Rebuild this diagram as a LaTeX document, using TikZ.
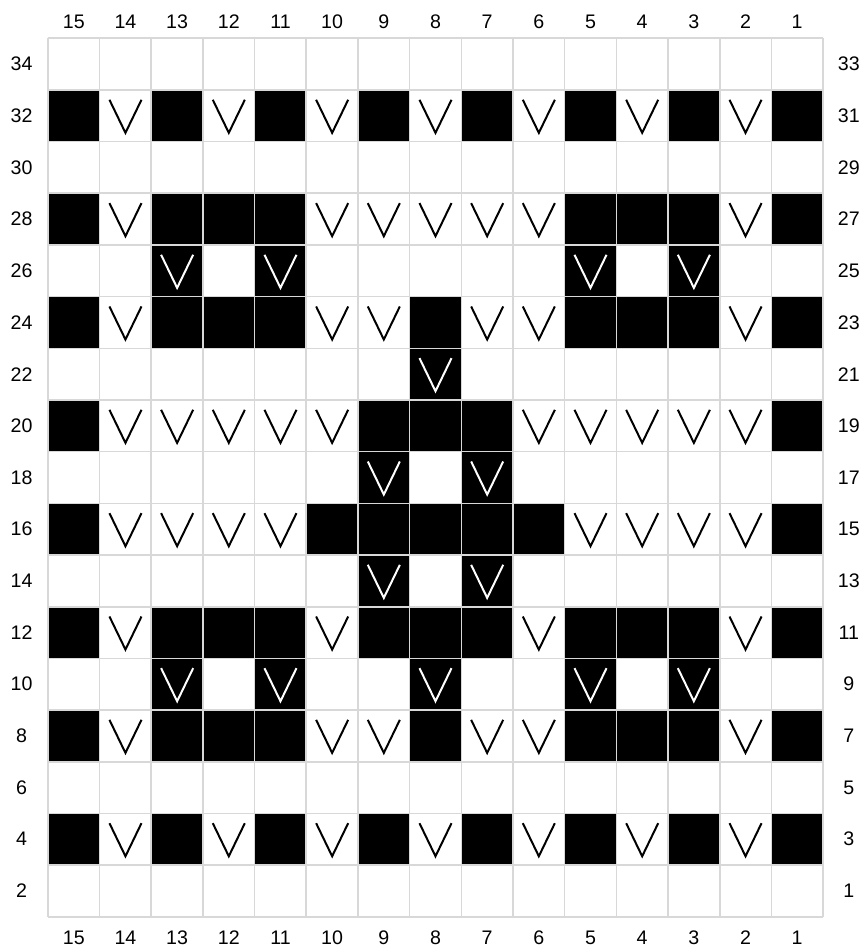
\documentclass[tikz,border=0pt]{standalone}
\usepackage{fontspec}
\setmainfont{Liberation Sans}
\usepackage{tikz}
\definecolor{gridgray}{RGB}{216,216,216}
\tikzset{
  slip/.pic={\draw[line width=1.1pt] (-0.31,0.31) -- (0,-0.33) -- (0.31,0.31);},
  num/.style={font=\fontsize{10.8}{13}\selectfont, inner sep=0pt}
}
\begin{document}
\begin{tikzpicture}
\useasboundingbox (-0.928,-0.586) rectangle (15.768,17.741);
%black cells
%row 32
\fill (0,15) rectangle (1,16) (2,15) rectangle (3,16) (4,15) rectangle (5,16) (6,15) rectangle (7,16) (8,15) rectangle (9,16) (10,15) rectangle (11,16) (12,15) rectangle (13,16) (14,15) rectangle (15,16);
%row 28
\fill (0,13) rectangle (1,14) (2,13) rectangle (5,14) (10,13) rectangle (13,14) (14,13) rectangle (15,14);
%row 26
\fill (2,12) rectangle (3,13) (4,12) rectangle (5,13) (10,12) rectangle (11,13) (12,12) rectangle (13,13);
%row 24
\fill (0,11) rectangle (1,12) (2,11) rectangle (5,12) (7,11) rectangle (8,12) (10,11) rectangle (13,12) (14,11) rectangle (15,12);
%row 22
\fill (7,10) rectangle (8,11);
%row 20
\fill (0,9) rectangle (1,10) (6,9) rectangle (9,10) (14,9) rectangle (15,10);
%row 18
\fill (6,8) rectangle (7,9) (8,8) rectangle (9,9);
%row 16
\fill (0,7) rectangle (1,8) (5,7) rectangle (10,8) (14,7) rectangle (15,8);
%row 14
\fill (6,6) rectangle (7,7) (8,6) rectangle (9,7);
%row 12
\fill (0,5) rectangle (1,6) (2,5) rectangle (5,6) (6,5) rectangle (9,6) (10,5) rectangle (13,6) (14,5) rectangle (15,6);
%row 10
\fill (2,4) rectangle (3,5) (4,4) rectangle (5,5) (7,4) rectangle (8,5) (10,4) rectangle (11,5) (12,4) rectangle (13,5);
%row 8
\fill (0,3) rectangle (1,4) (2,3) rectangle (5,4) (7,3) rectangle (8,4) (10,3) rectangle (13,4) (14,3) rectangle (15,4);
%row 4
\fill (0,1) rectangle (1,2) (2,1) rectangle (3,2) (4,1) rectangle (5,2) (6,1) rectangle (7,2) (8,1) rectangle (9,2) (10,1) rectangle (11,2) (12,1) rectangle (13,2) (14,1) rectangle (15,2);

%grid
\draw[gridgray, line width=0.9pt] (0,0) grid (15,17);

%slip stitches
%row 32
\pic at (1.5,15.5) {slip};
\pic at (3.5,15.5) {slip};
\pic at (5.5,15.5) {slip};
\pic at (7.5,15.5) {slip};
\pic at (9.5,15.5) {slip};
\pic at (11.5,15.5) {slip};
\pic at (13.5,15.5) {slip};
%row 28
\pic at (1.5,13.5) {slip};
\pic at (5.5,13.5) {slip};
\pic at (6.5,13.5) {slip};
\pic at (7.5,13.5) {slip};
\pic at (8.5,13.5) {slip};
\pic at (9.5,13.5) {slip};
\pic at (13.5,13.5) {slip};
%row 26
\pic[white] at (2.5,12.5) {slip};
\pic[white] at (4.5,12.5) {slip};
\pic[white] at (10.5,12.5) {slip};
\pic[white] at (12.5,12.5) {slip};
%row 24
\pic at (1.5,11.5) {slip};
\pic at (5.5,11.5) {slip};
\pic at (6.5,11.5) {slip};
\pic at (8.5,11.5) {slip};
\pic at (9.5,11.5) {slip};
\pic at (13.5,11.5) {slip};
%row 22
\pic[white] at (7.5,10.5) {slip};
%row 20
\pic at (1.5,9.5) {slip};
\pic at (2.5,9.5) {slip};
\pic at (3.5,9.5) {slip};
\pic at (4.5,9.5) {slip};
\pic at (5.5,9.5) {slip};
\pic at (9.5,9.5) {slip};
\pic at (10.5,9.5) {slip};
\pic at (11.5,9.5) {slip};
\pic at (12.5,9.5) {slip};
\pic at (13.5,9.5) {slip};
%row 18
\pic[white] at (6.5,8.5) {slip};
\pic[white] at (8.5,8.5) {slip};
%row 16
\pic at (1.5,7.5) {slip};
\pic at (2.5,7.5) {slip};
\pic at (3.5,7.5) {slip};
\pic at (4.5,7.5) {slip};
\pic at (10.5,7.5) {slip};
\pic at (11.5,7.5) {slip};
\pic at (12.5,7.5) {slip};
\pic at (13.5,7.5) {slip};
%row 14
\pic[white] at (6.5,6.5) {slip};
\pic[white] at (8.5,6.5) {slip};
%row 12
\pic at (1.5,5.5) {slip};
\pic at (5.5,5.5) {slip};
\pic at (9.5,5.5) {slip};
\pic at (13.5,5.5) {slip};
%row 10
\pic[white] at (2.5,4.5) {slip};
\pic[white] at (4.5,4.5) {slip};
\pic[white] at (7.5,4.5) {slip};
\pic[white] at (10.5,4.5) {slip};
\pic[white] at (12.5,4.5) {slip};
%row 8
\pic at (1.5,3.5) {slip};
\pic at (5.5,3.5) {slip};
\pic at (6.5,3.5) {slip};
\pic at (8.5,3.5) {slip};
\pic at (9.5,3.5) {slip};
\pic at (13.5,3.5) {slip};
%row 4
\pic at (1.5,1.5) {slip};
\pic at (3.5,1.5) {slip};
\pic at (5.5,1.5) {slip};
\pic at (7.5,1.5) {slip};
\pic at (9.5,1.5) {slip};
\pic at (11.5,1.5) {slip};
\pic at (13.5,1.5) {slip};

%put numbers
%columns top
\node[num] (t15) at (0.5,17.32) {15};
\node[num] (t14) at (1.5,17.32) {14};
\node[num] (t13) at (2.5,17.32) {13};
\node[num] (t12) at (3.5,17.32) {12};
\node[num] (t11) at (4.5,17.32) {11};
\node[num] (t10) at (5.5,17.32) {10};
\node[num] (t9) at (6.5,17.32) {9};
\node[num] (t8) at (7.5,17.32) {8};
\node[num] (t7) at (8.5,17.32) {7};
\node[num] (t6) at (9.5,17.32) {6};
\node[num] (t5) at (10.5,17.32) {5};
\node[num] (t4) at (11.5,17.32) {4};
\node[num] (t3) at (12.5,17.32) {3};
\node[num] (t2) at (13.5,17.32) {2};
\node[num] (t1) at (14.5,17.32) {1};
%columns bottom
\node[num] (b15) at (0.5,-0.41) {15};
\node[num] (b14) at (1.5,-0.41) {14};
\node[num] (b13) at (2.5,-0.41) {13};
\node[num] (b12) at (3.5,-0.41) {12};
\node[num] (b11) at (4.5,-0.41) {11};
\node[num] (b10) at (5.5,-0.41) {10};
\node[num] (b9) at (6.5,-0.41) {9};
\node[num] (b8) at (7.5,-0.41) {8};
\node[num] (b7) at (8.5,-0.41) {7};
\node[num] (b6) at (9.5,-0.41) {6};
\node[num] (b5) at (10.5,-0.41) {5};
\node[num] (b4) at (11.5,-0.41) {4};
\node[num] (b3) at (12.5,-0.41) {3};
\node[num] (b2) at (13.5,-0.41) {2};
\node[num] (b1) at (14.5,-0.41) {1};
%rows left
\node[num] (l34) at (-0.51,16.5) {34};
\node[num] (l32) at (-0.51,15.5) {32};
\node[num] (l30) at (-0.51,14.5) {30};
\node[num] (l28) at (-0.51,13.5) {28};
\node[num] (l26) at (-0.51,12.5) {26};
\node[num] (l24) at (-0.51,11.5) {24};
\node[num] (l22) at (-0.51,10.5) {22};
\node[num] (l20) at (-0.51,9.5) {20};
\node[num] (l18) at (-0.51,8.5) {18};
\node[num] (l16) at (-0.51,7.5) {16};
\node[num] (l14) at (-0.51,6.5) {14};
\node[num] (l12) at (-0.51,5.5) {12};
\node[num] (l10) at (-0.51,4.5) {10};
\node[num] (l8) at (-0.51,3.5) {8};
\node[num] (l6) at (-0.51,2.5) {6};
\node[num] (l4) at (-0.51,1.5) {4};
\node[num] (l2) at (-0.51,0.5) {2};
%rows right
\node[num] (r33) at (15.5,16.5) {33};
\node[num] (r31) at (15.5,15.5) {31};
\node[num] (r29) at (15.5,14.5) {29};
\node[num] (r27) at (15.5,13.5) {27};
\node[num] (r25) at (15.5,12.5) {25};
\node[num] (r23) at (15.5,11.5) {23};
\node[num] (r21) at (15.5,10.5) {21};
\node[num] (r19) at (15.5,9.5) {19};
\node[num] (r17) at (15.5,8.5) {17};
\node[num] (r15) at (15.5,7.5) {15};
\node[num] (r13) at (15.5,6.5) {13};
\node[num] (r11) at (15.5,5.5) {11};
\node[num] (r9) at (15.5,4.5) {9};
\node[num] (r7) at (15.5,3.5) {7};
\node[num] (r5) at (15.5,2.5) {5};
\node[num] (r3) at (15.5,1.5) {3};
\node[num] (r1) at (15.5,0.5) {1};
\end{tikzpicture}
\end{document}
